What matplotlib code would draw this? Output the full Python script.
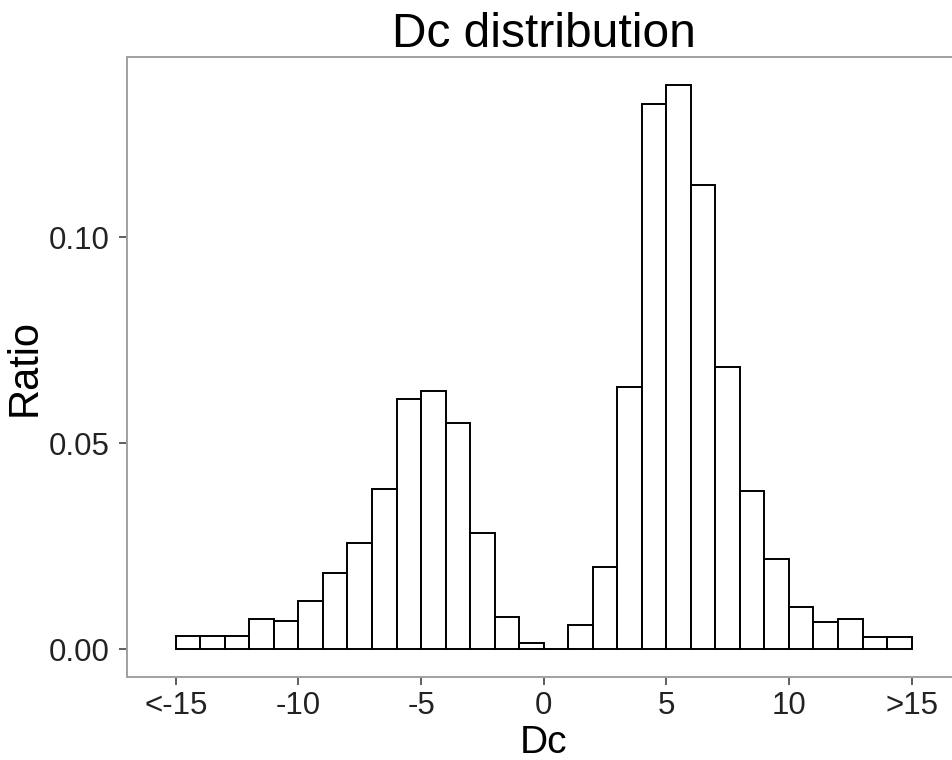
import numpy as np
import matplotlib
matplotlib.use("Agg")
import matplotlib.pyplot as plt

plt.rcParams['font.family'] = ['Liberation Sans', 'DejaVu Sans']

# bin left edges (width 1) and ratio per bin
bin_edges = np.arange(-15, 16)
ratios = [0.0033, 0.0033, 0.0033, 0.0073, 0.0068, 0.0117, 0.0185, 0.0257,
          0.0389, 0.0607, 0.0627, 0.0549, 0.0282, 0.0078, 0.0014, 0.0,
          0.0058, 0.0199, 0.0636, 0.1323, 0.1370, 0.1127, 0.0685, 0.0383,
          0.0218, 0.0102, 0.0067, 0.0074, 0.0029, 0.0029]

xticks = [-15, -10, -5, 0, 5, 10, 15]
xtick_labels = ["<-15", "-10", "-5", "0", "5", "10", ">15"]
yticks = [0.0, 0.05, 0.10]
ytick_labels = ["0.00", "0.05", "0.10"]

fig = plt.figure(figsize=(9.53, 7.6), dpi=100)
ax = fig.add_axes([0.133, 0.1088, 0.875, 0.8166])

ax.bar(bin_edges[:-1], ratios, width=np.diff(bin_edges), align='edge',
       facecolor='white', edgecolor='black', linewidth=1.4)

ax.set_xlim(-17, 17)
ax.set_ylim(-0.00685, 0.1439)

ax.set_xticks(xticks)
ax.set_xticklabels(xtick_labels)
ax.set_yticks(yticks)
ax.set_yticklabels(ytick_labels)
ax.tick_params(axis='both', length=5.5, width=1.1, color='#333333',
               labelsize=22.5, labelcolor='#222222')
ax.tick_params(axis='x', pad=4.5)
ax.tick_params(axis='y', pad=7)

for side in ax.spines.values():
    side.set_color('#a0a0a0')
    side.set_linewidth(1.4)

ax.set_title("Dc distribution", fontsize=34.5, pad=5)
ax.set_xlabel("Dc", fontsize=28, labelpad=2.5)
ax.set_ylabel("Ratio", fontsize=30, labelpad=3)

fig.savefig("out.png", dpi=100)
